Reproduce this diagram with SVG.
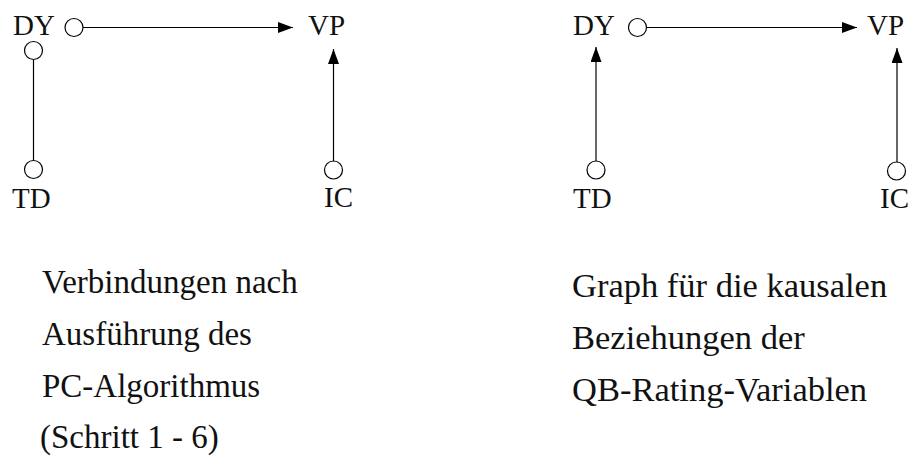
<svg xmlns="http://www.w3.org/2000/svg" width="909" height="460" viewBox="0 0 909 460">
  <style>
    .lbl { font-family: "Liberation Serif", "Times New Roman", serif; font-size: 29px; fill: #111; }
    .cap { font-family: "Liberation Serif", "Times New Roman", serif; font-size: 33px; fill: #111; }
    .cap-r { font-size: 34.5px; }
    .edge { stroke: #000; stroke-width: 1.2; fill: none; }
    .circ { stroke: #000; stroke-width: 1.2; fill: #fff; }
  </style>
  <defs>
    <marker id="arrow" viewBox="0 0 15 11" refX="15" refY="5.5" markerWidth="15" markerHeight="11" markerUnits="userSpaceOnUse" orient="auto">
      <path d="M0,0 L15,5.5 L0,11 Z" fill="#000"/>
    </marker>
  </defs>
  <rect width="909" height="460" fill="#fff"/>

  <!-- Left graph: edges after PC steps 1-6 -->
  <g id="connectors-left">
    <line class="edge" x1="83" y1="27.5" x2="293" y2="27.5" marker-end="url(#arrow)"/>
    <line class="edge" x1="33.5" y1="60" x2="33.5" y2="160"/>
    <line class="edge" x1="333.5" y1="161" x2="333.5" y2="49" marker-end="url(#arrow)"/>
    <circle class="circ" cx="74" cy="27.5" r="9"/>
    <circle class="circ" cx="33.5" cy="50.5" r="9"/>
    <circle class="circ" cx="33.5" cy="169.5" r="9"/>
    <circle class="circ" cx="333.5" cy="170" r="9"/>
  </g>
  <g id="left-DY"><text class="lbl" x="13" y="35">DY</text></g>
  <g id="left-VP"><text class="lbl" x="308" y="35">VP</text></g>
  <g id="left-TD"><text class="lbl" x="12" y="208">TD</text></g>
  <g id="left-IC"><text class="lbl" x="324" y="207">IC</text></g>

  <!-- Right graph: causal relations -->
  <g id="connectors-right">
    <line class="edge" x1="647" y1="27.5" x2="857" y2="27.5" marker-end="url(#arrow)"/>
    <line class="edge" x1="596" y1="161" x2="596" y2="47" marker-end="url(#arrow)"/>
    <line class="edge" x1="897" y1="162" x2="897" y2="48" marker-end="url(#arrow)"/>
    <circle class="circ" cx="637.5" cy="27.5" r="9"/>
    <circle class="circ" cx="596" cy="170" r="9"/>
    <circle class="circ" cx="896.5" cy="171" r="9"/>
  </g>
  <g id="right-DY"><text class="lbl" x="573" y="35">DY</text></g>
  <g id="right-VP"><text class="lbl" x="867" y="35">VP</text></g>
  <g id="right-TD"><text class="lbl" x="573" y="208">TD</text></g>
  <g id="right-IC"><text class="lbl" x="880" y="208">IC</text></g>

  <!-- Captions -->
  <g id="caption-left">
    <text class="cap" x="42" y="293">Verbindungen nach</text>
    <text class="cap" x="42" y="345">Ausführung des</text>
    <text class="cap" x="42" y="397">PC-Algorithmus</text>
    <text class="cap" x="40" y="448">(Schritt 1 - 6)</text>
  </g>
  <g id="caption-right">
    <text class="cap cap-r" x="572" y="297">Graph für die kausalen</text>
    <text class="cap cap-r" x="572" y="349">Beziehungen der</text>
    <text class="cap cap-r" x="572" y="401">QB-Rating-Variablen</text>
  </g>
</svg>
